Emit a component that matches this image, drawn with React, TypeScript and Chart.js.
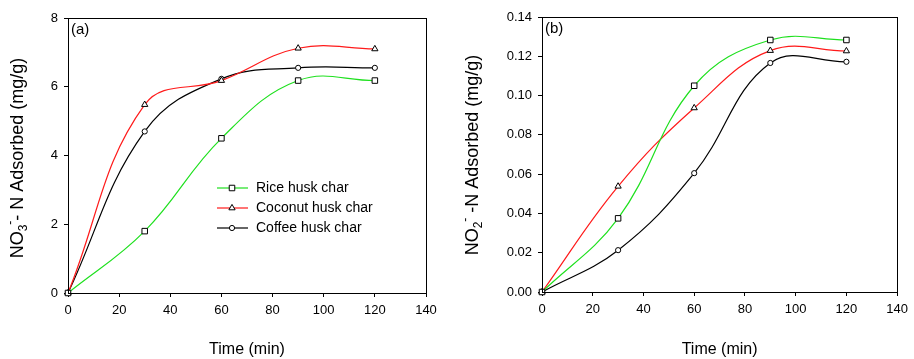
import React, { useEffect, useRef } from "react";
import { Chart, registerables } from "chart.js";

Chart.register(...registerables);

const times = [0, 30, 60, 90, 120];
const seriesNames = ["Rice husk char", "Coconut husk char", "Coffee husk char"];
const riceA = [0, 1.8, 4.5, 6.18, 6.18];
const coconutA = [0, 5.48, 6.18, 7.12, 7.1];
const coffeeA = [0, 4.7, 6.23, 6.55, 6.55];
const riceB = [0, 0.0375, 0.105, 0.1283, 0.1283];
const coconutB = [0, 0.0538, 0.0937, 0.1229, 0.1227];
const coffeeB = [0, 0.0213, 0.0605, 0.1166, 0.1172];
const xTicks = { min: 0, max: 140, step: 20 };
const yTicksA = { min: 0, max: 8, step: 2 };
const yTicksB = { min: 0, max: 0.14, step: 0.02 };

const colors = ["#1ee01e", "#ff1a1a", "#000000"];
const pointStyles = ["rect", "triangle", "circle"];
const pointRadii = [3.9, 3.6, 2.6];
const FONT = "Arial, 'Liberation Sans', sans-serif";

type Part = { t: string; k: "n" | "sub" | "sup" };

function makeDatasets(vals: number[][]) {
  return vals.map((v, i) => ({
    label: seriesNames[i],
    data: times.map((t, j) => ({ x: t, y: v[j] })),
    borderColor: colors[i],
    borderWidth: 1.2,
    pointStyle: pointStyles[i],
    pointRadius: pointRadii[i],
    pointBackgroundColor: "#ffffff",
    pointBorderColor: "#000000",
    pointBorderWidth: 1,
    tension: 0.4,
    clip: false as any,
    fill: false,
  }));
}

function drawParts(ctx: CanvasRenderingContext2D, parts: Part[], size: number) {
  const small = Math.round(size * 0.68);
  let total = 0;
  for (const p of parts) {
    ctx.font = `${p.k === "n" ? size : small}px ${FONT}`;
    total += ctx.measureText(p.t).width;
  }
  let x = -total / 2;
  for (const p of parts) {
    ctx.font = `${p.k === "n" ? size : small}px ${FONT}`;
    const dy = p.k === "sub" ? size * 0.3 : p.k === "sup" ? -size * 0.42 : 0;
    ctx.fillText(p.t, x, dy);
    x += ctx.measureText(p.t).width;
  }
}

function PanelChart(props: {
  vals: number[][];
  yT: { min: number; max: number; step: number };
  decimals: number;
  yWidth: number;
  xHeight: number;
  pad: { top: number; right: number };
  label: string;
  yTitle: Part[];
  yTitleX: number;
  yTitleY: number;
  legend: boolean;
}) {
  const ref = useRef<HTMLCanvasElement>(null);
  useEffect(() => {
    const p = props;
    const decor = {
      id: "decor",
      afterDraw(chart: any) {
        const { ctx, chartArea: a } = chart;
        ctx.save();
        ctx.strokeStyle = "#000";
        ctx.lineWidth = 1;
        ctx.strokeRect(Math.round(a.left) + 0.5, Math.round(a.top) + 0.5, Math.round(a.right - a.left), Math.round(a.bottom - a.top));
        ctx.fillStyle = "#000";
        ctx.textBaseline = "middle";
        ctx.textAlign = "left";
        ctx.font = `15px ${FONT}`;
        ctx.fillText(p.label, a.left + 3, a.top + 12);
        // x title
        ctx.textAlign = "center";
        ctx.font = `16px ${FONT}`;
        ctx.fillText("Time (min)", (a.left + a.right) / 2, 350);
        // y title
        ctx.save();
        ctx.translate(p.yTitleX, p.yTitleY);
        ctx.rotate(-Math.PI / 2);
        ctx.textAlign = "left";
        drawParts(ctx, p.yTitle, 18);
        ctx.restore();
        if (p.legend) {
          const lx0 = 217, lx1 = 248, tx = 256;
          const rows = [188, 208, 228];
          chart.data.datasets.forEach((ds: any, i: number) => {
            const y = rows[i];
            ctx.strokeStyle = ds.borderColor;
            ctx.lineWidth = 1.2;
            ctx.beginPath();
            ctx.moveTo(lx0, y);
            ctx.lineTo(lx1, y);
            ctx.stroke();
            ctx.lineWidth = 1;
            ctx.strokeStyle = "#000";
            ctx.fillStyle = "#fff";
            const r = ds.pointRadius;
            ctx.beginPath();
            if (ds.pointStyle === "rect") {
              const s = r * Math.SQRT1_2;
              ctx.rect(232 - s, y - s, 2 * s, 2 * s);
            } else if (ds.pointStyle === "triangle") {
              ctx.moveTo(232, y - r);
              ctx.lineTo(232 + r * 0.866, y + r * 0.5);
              ctx.lineTo(232 - r * 0.866, y + r * 0.5);
              ctx.closePath();
            } else {
              ctx.arc(232, y, r, 0, Math.PI * 2);
            }
            ctx.fill();
            ctx.stroke();
            ctx.fillStyle = "#000";
            ctx.textAlign = "left";
            ctx.font = `14px ${FONT}`;
            ctx.fillText(ds.label, tx, y + 0.5);
          });
        }
        ctx.restore();
      },
    };
    const chart = new Chart(ref.current as HTMLCanvasElement, {
      type: "line",
      data: { datasets: makeDatasets(p.vals) as any },
      options: {
        animation: false,
        responsive: false,
        devicePixelRatio: 1,
        layout: { padding: { left: 0, bottom: 0, top: p.pad.top, right: p.pad.right } },
        plugins: { legend: { display: false }, tooltip: { enabled: false } },
        scales: {
          x: {
            type: "linear",
            min: xTicks.min,
            max: xTicks.max,
            afterFit(s: any) {
              s.height = p.xHeight;
            },
            ticks: {
              stepSize: xTicks.step,
              color: "#000",
              font: { family: FONT, size: 13 },
              padding: 6,
              maxRotation: 0,
            },
            grid: { drawOnChartArea: false, drawTicks: true, tickLength: 4, color: "#000" },
            border: { display: true, color: "#000" },
          },
          y: {
            type: "linear",
            min: p.yT.min,
            max: p.yT.max,
            afterFit(s: any) {
              s.width = p.yWidth;
            },
            ticks: {
              stepSize: p.yT.step,
              color: "#000",
              font: { family: FONT, size: 13 },
              padding: 6,
              callback: (v: any) => Number(v).toFixed(p.decimals),
            },
            grid: { drawOnChartArea: false, drawTicks: true, tickLength: 4, color: "#000" },
            border: { display: true, color: "#000" },
          },
        },
      },
      plugins: [decor],
    });
    return () => chart.destroy();
  }, []);
  return <canvas ref={ref} width={457} height={359} style={{ width: 457, height: 359, display: "block" }} />;
}

export default function App() {
  return (
    <div style={{ position: "fixed", left: 0, top: 0, width: 914, height: 359, background: "#fff", display: "flex" }}>
      <PanelChart
        vals={[riceA, coconutA, coffeeA]}
        yT={yTicksA}
        decimals={0}
        yWidth={68}
        xHeight={66}
        pad={{ top: 18, right: 31 }}
        label="(a)"
        yTitle={[
          { t: "NO", k: "n" },
          { t: "3", k: "sub" },
          { t: "-", k: "sup" },
          { t: "- N Adsorbed (mg/g)", k: "n" },
        ]}
        yTitleX={18}
        yTitleY={158}
        legend={true}
      />
      <PanelChart
        vals={[riceB, coconutB, coffeeB]}
        yT={yTicksB}
        decimals={2}
        yWidth={85}
        xHeight={67}
        pad={{ top: 17, right: 14 }}
        label="(b)"
        yTitle={[
          { t: "NO", k: "n" },
          { t: "2", k: "sub" },
          { t: "-", k: "sup" },
          { t: " -N Adsorbed (mg/g)", k: "n" },
        ]}
        yTitleX={16}
        yTitleY={155}
        legend={false}
      />
    </div>
  );
}
